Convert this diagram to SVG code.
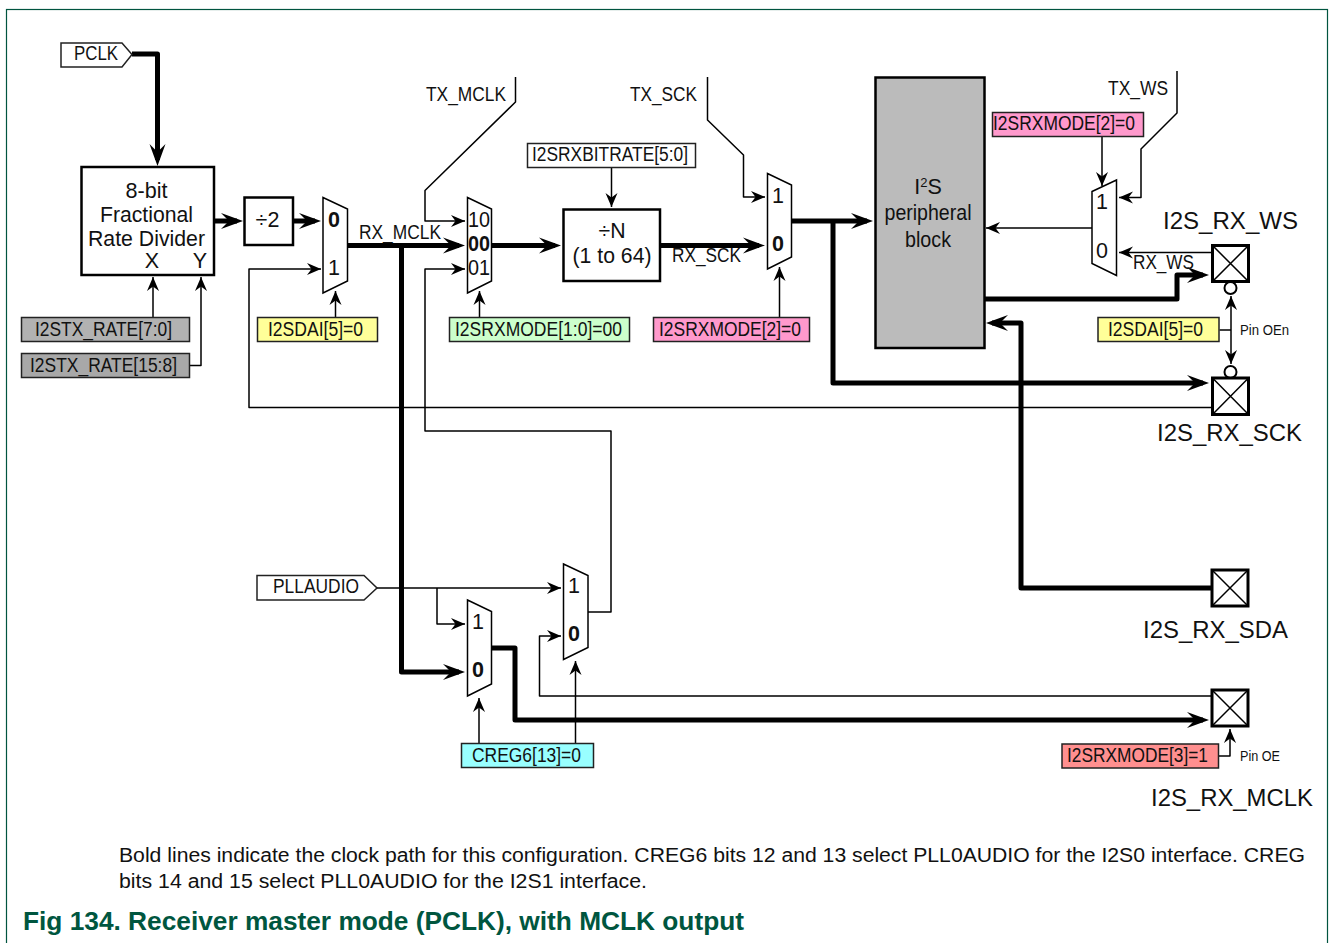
<svg xmlns="http://www.w3.org/2000/svg" width="1330" height="943" viewBox="0 0 1330 943">
<style>
text{font-family:"Liberation Sans",Arial,sans-serif;fill:#111}
.t{font-size:20.5px}
.m{font-size:21.5px;text-anchor:middle}
.b{font-weight:bold}
.pad{font-size:24.5px}
.s{font-size:15px}
.foot{font-size:19.5px}
.cap{font-size:26px;font-weight:bold;fill:#00563f}
.thin,.thick{fill:none;stroke:#000;stroke-linejoin:round}
.thin{stroke-width:1.5;marker-end:url(#ah)}
.plain{marker-end:none}
.thick{stroke-width:5;marker-end:url(#AH)}
.box{fill:#fff;stroke:#000;stroke-width:2.5}
.mux,.lab{stroke:#000;stroke-width:1.5;fill:#fff}
.lab{stroke:#222}
.pin{fill:#fff;stroke:#000;stroke-width:3}
.x{stroke:#000;stroke-width:1.5;fill:none}
.ring{fill:#fff;stroke:#000;stroke-width:2}
</style>
<defs>
<marker id="ah" markerUnits="userSpaceOnUse" markerWidth="16" markerHeight="14" refX="14" refY="7" orient="auto" overflow="visible"><path d="M0,1 L14,7 L0,13 L4.5,7z" fill="#000"/></marker>
<marker id="AH" markerUnits="userSpaceOnUse" markerWidth="24" markerHeight="20" refX="16" refY="10" orient="auto" overflow="visible"><path d="M0,2 L22,10 L0,18 L8,10z" fill="#000"/></marker>
</defs>
<rect x="6.5" y="9.5" width="1321" height="945" fill="#fff" stroke="#00543f" stroke-width="1.2"/>
<g id="connectors">
<path class="thick" d="M132,54H157.5V160"/>
<path class="thick" d="M214,221H237"/>
<path class="thick" d="M293,221H315"/>
<path class="thin" d="M1212,407.5H249V269H321"/>
<path class="thick" d="M347,245.5H459"/>
<path class="thick" d="M401.5,245.5V672H459"/>
<path class="thin" d="M153,317V277"/>
<path class="thin" d="M189,365.5H201V277"/>
<path class="thin" d="M335.5,317V291"/>
<path class="thin" d="M515.5,77V102L425,190.5V221H465"/>
<path class="thin" d="M587,612H611V431H425V269H465"/>
<path class="thick" d="M491,245.5H555"/>
<path class="thin" d="M611.5,167V207"/>
<path class="thin" d="M479.5,317V291"/>
<path class="thick" d="M660,245.5H759"/>
<path class="thin" d="M779.5,317V267"/>
<path class="thin" d="M707.5,77V120L743.5,155V197H765"/>
<path class="thick" d="M791,221H867"/>
<path class="thick" d="M833,221V383H1203"/>
<path class="thin" d="M1102,136V186"/>
<path class="thin" d="M1177,71V113L1141,149V197.5H1119"/>
<path class="thin" d="M1092,228H986"/>
<path class="thin" d="M1212,252.5H1119"/>
<path class="thick" d="M984,299H1177V275H1203"/>
<path class="thick" d="M1212,588H1021V323H992"/>
<path class="thin plain" d="M1219.5,330H1231"/>
<path class="thin" d="M1231,330V296" />
<path class="thin" d="M1231,330V364" />
<path class="thin" d="M377,588H561"/>
<path class="thin" d="M437,588V624H465"/>
<path class="thick" d="M491,648H515V720H1203"/>
<path class="thin" d="M1212,696H539.5V636H561"/>
<path class="thin" d="M479,743V698"/>
<path class="thin" d="M575.5,743V661"/>
<path class="thin" d="M1218,756H1230V729"/>
<text class="t" x="359" y="239" textLength="82" lengthAdjust="spacingAndGlyphs">RX_MCLK</text>
<text class="t" x="672" y="262" textLength="69" lengthAdjust="spacingAndGlyphs">RX_SCK</text>
<text class="t" x="1133" y="269" textLength="61" lengthAdjust="spacingAndGlyphs">RX_WS</text>
<text class="t" x="426" y="100.5" textLength="80" lengthAdjust="spacingAndGlyphs">TX_MCLK</text>
<text class="t" x="630" y="100.5" textLength="67" lengthAdjust="spacingAndGlyphs">TX_SCK</text>
<text class="t" x="1108" y="94.5" textLength="60" lengthAdjust="spacingAndGlyphs">TX_WS</text>
<text class="s" x="1240" y="335" textLength="49" lengthAdjust="spacingAndGlyphs">Pin OEn</text>
<text class="s" x="1240" y="761" textLength="40" lengthAdjust="spacingAndGlyphs">Pin OE</text>
</g>
<g id="pclk"><path class="lab" d="M61,43H122L132,54.5L122,67H61Z"/><text class="t" x="74" y="60" textLength="44" lengthAdjust="spacingAndGlyphs">PCLK</text></g>
<g id="pllaudio"><path class="lab" d="M257,575.5H364L377,588L364,600H257Z"/><text class="t" x="273" y="593" textLength="86" lengthAdjust="spacingAndGlyphs">PLLAUDIO</text></g>
<g id="divider"><rect class="box" x="81.5" y="167" width="132.5" height="108"/>
<text class="m" x="146.5" y="198" textLength="42" lengthAdjust="spacingAndGlyphs">8-bit</text>
<text class="m" x="146.5" y="222" textLength="93" lengthAdjust="spacingAndGlyphs">Fractional</text>
<text class="m" x="146.5" y="246" textLength="117" lengthAdjust="spacingAndGlyphs">Rate Divider</text>
<text class="m" x="152" y="268">X</text><text class="m" x="200" y="268">Y</text></g>
<g id="div2"><rect class="box" x="244.5" y="197.5" width="48.5" height="47.5"/><text class="m" x="267.5" y="227">÷2</text></g>
<g id="mux1"><path class="mux" d="M323,197.5L347.5,209V281L323,293Z"/><text class="m b" x="334" y="227">0</text><text class="m" x="334" y="275">1</text></g>
<g id="mux2"><path class="mux" d="M467.5,197.5L491.5,209V281L467.5,293Z"/><text class="m" x="479" y="227" textLength="22" lengthAdjust="spacingAndGlyphs">10</text><text class="m b" x="479" y="251" textLength="22" lengthAdjust="spacingAndGlyphs">00</text><text class="m" x="479" y="275" textLength="22" lengthAdjust="spacingAndGlyphs">01</text></g>
<g id="divn"><rect class="box" x="563.5" y="209.5" width="96.5" height="71.5"/><text class="m" x="612" y="238" textLength="27" lengthAdjust="spacingAndGlyphs">÷N</text><text class="m" x="612" y="262.5" textLength="79" lengthAdjust="spacingAndGlyphs">(1 to 64)</text></g>
<g id="mux3"><path class="mux" d="M767.5,173.5L791.5,185V257L767.5,269Z"/><text class="m" x="778" y="203">1</text><text class="m b" x="778" y="251">0</text></g>
<g id="mux4"><path class="mux" d="M1092,191.5L1116.5,180V275.5L1092,263.5Z"/><text class="m" x="1102" y="209">1</text><text class="m" x="1102" y="257.5">0</text></g>
<g id="mux5"><path class="mux" d="M467.5,600L491.5,611.5V684L467.5,696Z"/><text class="m" x="478" y="629">1</text><text class="m b" x="478" y="677">0</text></g>
<g id="mux6"><path class="mux" d="M563.5,564L588,575.5V647.5L563.5,659.5Z"/><text class="m" x="574" y="593">1</text><text class="m b" x="574" y="641">0</text></g>
<g id="peripheral"><rect class="box" x="875.5" y="77.5" width="109" height="270.5" style="fill:#bbb"/>
<text class="m" x="928" y="194">I<tspan font-size="13" dy="-7">2</tspan><tspan dy="7">S</tspan></text>
<text class="m" x="928" y="220" textLength="87" lengthAdjust="spacingAndGlyphs">peripheral</text>
<text class="m" x="928" y="247" textLength="46" lengthAdjust="spacingAndGlyphs">block</text></g>
<g id="rate1"><rect class="lab" x="21.5" y="317.5" width="168" height="24" style="fill:#b2b2b2"/><text class="t" x="35" y="335.5" textLength="137" lengthAdjust="spacingAndGlyphs">I2STX_RATE[7:0]</text></g>
<g id="rate2"><rect class="lab" x="21.5" y="353.5" width="168" height="24" style="fill:#a8a8a8"/><text class="t" x="30" y="371.5" textLength="147" lengthAdjust="spacingAndGlyphs">I2STX_RATE[15:8]</text></g>
<g id="sdai1"><rect class="lab" x="257.5" y="317.5" width="120" height="24" style="fill:#ffff99"/><text class="t" x="268" y="335.5" textLength="95" lengthAdjust="spacingAndGlyphs">I2SDAI[5]=0</text></g>
<g id="bitrate"><rect class="lab" x="527.5" y="143.5" width="168" height="24"/><text class="t" x="532" y="161" textLength="156" lengthAdjust="spacingAndGlyphs">I2SRXBITRATE[5:0]</text></g>
<g id="mode10"><rect class="lab" x="449.5" y="317.5" width="180" height="24" style="fill:#ccffcc"/><text class="t" x="455" y="335.5" textLength="167" lengthAdjust="spacingAndGlyphs">I2SRXMODE[1:0]=00</text></g>
<g id="mode2a"><rect class="lab" x="653.5" y="317.5" width="156" height="24" style="fill:#ff99cc"/><text class="t" x="659" y="335.5" textLength="142" lengthAdjust="spacingAndGlyphs">I2SRXMODE[2]=0</text></g>
<g id="mode2b"><rect class="lab" x="992.5" y="112.5" width="151" height="24" style="fill:#ff99cc"/><text class="t" x="993" y="130" textLength="142" lengthAdjust="spacingAndGlyphs">I2SRXMODE[2]=0</text></g>
<g id="sdai2"><rect class="lab" x="1098" y="317.5" width="121" height="24" style="fill:#ffff99"/><text class="t" x="1108" y="335.5" textLength="95" lengthAdjust="spacingAndGlyphs">I2SDAI[5]=0</text></g>
<g id="creg"><rect class="lab" x="461.5" y="743.5" width="132" height="24" style="fill:#99ffff"/><text class="t" x="472" y="761.5" textLength="109" lengthAdjust="spacingAndGlyphs">CREG6[13]=0</text></g>
<g id="mode3"><rect class="lab" x="1062" y="744" width="156.5" height="24" style="fill:#ff8f8f"/><text class="t" x="1067" y="761.5" textLength="141" lengthAdjust="spacingAndGlyphs">I2SRXMODE[3]=1</text></g>
<g id="pad-ws"><circle class="ring" cx="1230.5" cy="288" r="6"/><rect class="pin" x="1212.5" y="245.5" width="36" height="36"/><path class="x" d="M1212.5,245.5L1248.5,281.5M1248.5,245.5L1212.5,281.5"/><text class="pad" x="1163" y="229" textLength="135" lengthAdjust="spacingAndGlyphs">I2S_RX_WS</text></g>
<g id="pad-sck"><circle class="ring" cx="1230.5" cy="372" r="6"/><rect class="pin" x="1212.5" y="378" width="36" height="36.5"/><path class="x" d="M1212.5,378L1248.5,414.5M1248.5,378L1212.5,414.5"/><text class="pad" x="1157" y="441" textLength="145" lengthAdjust="spacingAndGlyphs">I2S_RX_SCK</text></g>
<g id="pad-sda"><rect class="pin" x="1212" y="570" width="36" height="36"/><path class="x" d="M1212,570L1248,606M1248,570L1212,606"/><text class="pad" x="1143" y="638" textLength="145" lengthAdjust="spacingAndGlyphs">I2S_RX_SDA</text></g>
<g id="pad-mclk"><rect class="pin" x="1212" y="690" width="36" height="36"/><path class="x" d="M1212,690L1248,726M1248,690L1212,726"/><text class="pad" x="1151" y="806" textLength="162" lengthAdjust="spacingAndGlyphs">I2S_RX_MCLK</text></g>
<text class="foot" x="119" y="862" textLength="1186" lengthAdjust="spacingAndGlyphs">Bold lines indicate the clock path for this configuration. CREG6 bits 12 and 13 select PLL0AUDIO for the I2S0 interface. CREG</text>
<text class="foot" x="119" y="888" textLength="528" lengthAdjust="spacingAndGlyphs">bits 14 and 15 select PLL0AUDIO for the I2S1 interface.</text>
<text class="cap" x="23" y="930" textLength="721" lengthAdjust="spacingAndGlyphs">Fig 134. Receiver master mode (PCLK), with MCLK output</text>
</svg>
